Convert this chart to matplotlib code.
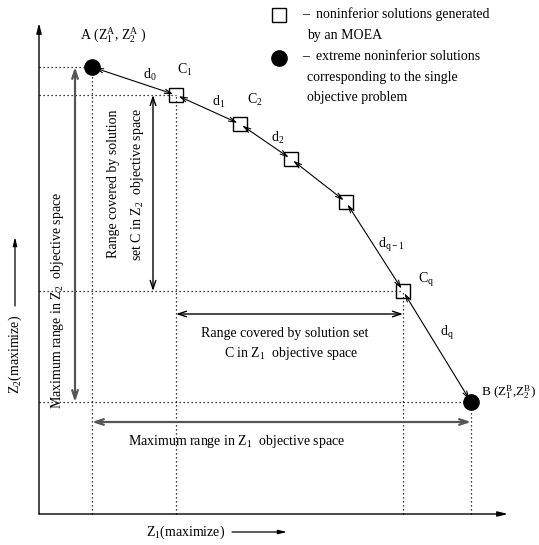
import matplotlib
matplotlib.use("Agg")
import matplotlib.pyplot as plt

plt.rcParams['font.family'] = ['Liberation Serif', 'DejaVu Serif']
plt.rcParams['mathtext.fontset'] = 'custom'
plt.rcParams['mathtext.rm'] = 'Liberation Serif'
plt.rcParams['mathtext.it'] = 'Liberation Serif:italic'

# Objective-space positions (diagram units: Z1 rightward, Z2 upward)
point_names = ["A", "C1", "C2", "C3", "C4", "Cq", "B"]
z1_values = [53, 137, 201, 252, 307, 364, 432]
z2_values = [447, 419, 390, 355, 312, 223, 112]
segment_labels = [r"d$_0$", r"d$_1$", r"d$_2$", "", r"d$_{\mathregular{q-1}}$", r"d$_\mathregular{q}$"]

FS = 10
fig = plt.figure(figsize=(5.39, 5.45), dpi=100)
ax = fig.add_axes([0, 0, 1, 1])
ax.set_xlim(-39, 500)
ax.set_ylim(-31, 514)
ax.axis('off')

# Axes arrows
ax.annotate("", xy=(0, 491), xytext=(0, 0),
            arrowprops=dict(arrowstyle='-|>,head_length=0.6,head_width=0.15', color='black', lw=1.0, shrinkA=0, shrinkB=0))
ax.annotate("", xy=(469, 0), xytext=(0, 0),
            arrowprops=dict(arrowstyle='-|>,head_length=0.6,head_width=0.15', color='black', lw=1.0, shrinkA=0, shrinkB=0))

zA1, zA2 = z1_values[0], z2_values[0]
zC1, zC2 = z1_values[1], z2_values[1]
zq1, zq2 = z1_values[5], z2_values[5]
zB1, zB2 = z1_values[6], z2_values[6]

dot = dict(color='black', lw=0.9, ls=(0, (1, 2.2)))
for i in [0, 1, 5, 6]:
    ax.plot([0, z1_values[i]], [z2_values[i], z2_values[i]], **dot)
    ax.plot([z1_values[i], z1_values[i]], [0, z2_values[i]], **dot)

# Frontier segments with double-headed arrows
for i in range(len(z1_values) - 1):
    ax.annotate("", xy=(z1_values[i + 1], z2_values[i + 1]), xytext=(z1_values[i], z2_values[i]),
                arrowprops=dict(arrowstyle='<->,head_length=0.5,head_width=0.15', color='black', lw=0.8,
                                shrinkA=2, shrinkB=2))

# Markers
ax.plot(z1_values[1:6], z2_values[1:6], ls='none', marker='s', ms=9.5, mfc='none', mec='black', mew=1.0)
ax.plot([zA1, zB1], [zA2, zB2], ls='none', marker='o', ms=11, mfc='black', mec='black')

# Range arrows
gray = '#555555'
ax.annotate("", xy=(36, zA2), xytext=(36, zB2),
            arrowprops=dict(arrowstyle='<->,head_length=0.6,head_width=0.2', color=gray, lw=1.6, shrinkA=0, shrinkB=0))
ax.annotate("", xy=(zA1, 92), xytext=(zB1, 92),
            arrowprops=dict(arrowstyle='<->,head_length=0.6,head_width=0.2', color=gray, lw=1.6, shrinkA=0, shrinkB=0))
ax.annotate("", xy=(114, zC2), xytext=(114, zq2),
            arrowprops=dict(arrowstyle='<->,head_length=0.6,head_width=0.2', color='black', lw=1.0, shrinkA=0, shrinkB=0))
ax.annotate("", xy=(zC1, 200), xytext=(zq1, 200),
            arrowprops=dict(arrowstyle='<->,head_length=0.6,head_width=0.2', color='black', lw=1.0, shrinkA=0, shrinkB=0))

# Point labels
ax.text(41, 479, r"A (Z$_1^\mathregular{A}$, Z$_2^\mathregular{A}$ )", fontsize=FS, va='center', ha='left')
ax.text(442, 122, r"B (Z$_1^\mathregular{B}$,Z$_2^\mathregular{B}$)", fontsize=FS - 0.5, va='center', ha='left')
ax.text(138, 444, r"C$_1$", fontsize=FS, va='center', ha='left')
ax.text(208, 414, r"C$_2$", fontsize=FS, va='center', ha='left')
ax.text(379, 234, r"C$_\mathregular{q}$", fontsize=FS, va='center', ha='left')

seg_pos = [(104, 439), (173, 412), (232, 376), None, (339, 269), (401, 181)]
for lab, pos in zip(segment_labels, seg_pos):
    if pos is not None and lab:
        ax.text(pos[0], pos[1], lab, fontsize=FS, va='center', ha='left')

# Range texts
ax.text(19, 214, r"Maximum range in Z$_2$  objective space", fontsize=FS, rotation=90,
        ha='center', va='center')
ax.text(74, 330, "Range covered by solution", fontsize=FS, rotation=90, ha='center', va='center')
ax.text(98, 330, r"set C in Z$_2$  objective space", fontsize=FS, rotation=90, ha='center', va='center')
ax.text(246, 181, "Range covered by solution set", fontsize=FS, ha='center', va='center')
ax.text(252, 161, r"C in Z$_1$  objective space", fontsize=FS, ha='center', va='center')
ax.text(198, 72, r"Maximum range in Z$_1$  objective space", fontsize=FS, ha='center', va='center')

# Axis labels
ax.text(107, -18, r"Z$_1$(maximize)", fontsize=FS, ha='left', va='center')
ax.annotate("", xy=(248, -18), xytext=(193, -18),
            arrowprops=dict(arrowstyle='-|>,head_length=0.5,head_width=0.12', color='black', lw=0.9, shrinkA=0, shrinkB=0))
ax.text(-24, 160, r"Z$_2$(maximize)", fontsize=FS, rotation=90, ha='center', va='center')
ax.annotate("", xy=(-24, 277), xytext=(-24, 208),
            arrowprops=dict(arrowstyle='-|>,head_length=0.5,head_width=0.12', color='black', lw=0.9, shrinkA=0, shrinkB=0))

# Legend
ax.plot([240], [499], ls='none', marker='s', ms=9.5, mfc='none', mec='black', mew=1.0)
ax.plot([240], [456], ls='none', marker='o', ms=11, mfc='black', mec='black')
ax.text(263, 500, "–  noninferior solutions generated", fontsize=FS, ha='left', va='center')
ax.text(268, 479, "by an MOEA", fontsize=FS, ha='left', va='center')
ax.text(263, 457, "–  extreme noninferior solutions", fontsize=FS, ha='left', va='center')
ax.text(268, 436, "corresponding to the single", fontsize=FS, ha='left', va='center')
ax.text(268, 416, "objective problem", fontsize=FS, ha='left', va='center')

fig.savefig("out.png", dpi=100)
